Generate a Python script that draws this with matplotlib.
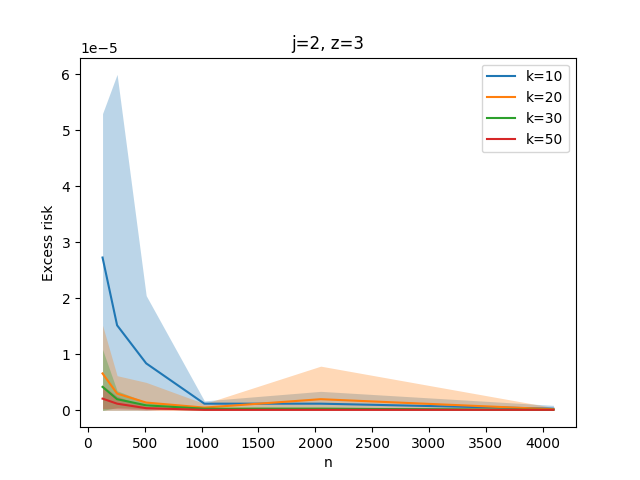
import matplotlib
matplotlib.use("Agg")
import matplotlib.pyplot as plt
import numpy as np

n = [128, 256, 512, 1024, 2048, 4096]
labels = ["k=10", "k=20", "k=30", "k=50"]

k10_mean = [2.73, 1.52, 0.84, 0.12, 0.12, 0.03]
k10_lo = [0.0, 0.0, 0.0, 0.07, 0.03, 0.0]
k10_hi = [5.3, 6.0, 2.05, 0.17, 0.34, 0.09]

k20_mean = [0.66, 0.30, 0.14, 0.05, 0.20, 0.02]
k20_lo = [0.0, 0.0, 0.0, 0.0, 0.0, 0.0]
k20_hi = [1.52, 0.62, 0.50, 0.12, 0.79, 0.05]

k30_mean = [0.42, 0.20, 0.09, 0.03, 0.03, 0.01]
k30_lo = [0.0, 0.05, 0.03, 0.0, 0.0, 0.0]
k30_hi = [1.09, 0.35, 0.15, 0.06, 0.06, 0.02]

k50_mean = [0.21, 0.12, 0.04, 0.01, 0.01, 0.01]
k50_lo = [0.03, 0.03, 0.01, 0.0, 0.0, 0.0]
k50_hi = [0.45, 0.25, 0.07, 0.02, 0.02, 0.02]

means = [k10_mean, k20_mean, k30_mean, k50_mean]
los = [k10_lo, k20_lo, k30_lo, k50_lo]
his = [k10_hi, k20_hi, k30_hi, k50_hi]

fig, ax = plt.subplots(figsize=(6.4, 4.8), dpi=100)
scale = 1e-5
for lab, m, lo, hi in zip(labels, means, los, his):
    line, = ax.plot(n, np.array(m) * scale, label=lab)
    ax.fill_between(n, np.array(lo) * scale, np.array(hi) * scale,
                    color=line.get_color(), alpha=0.3, linewidth=0)
ax.set_title("j=2, z=3")
ax.set_xlabel("n")
ax.set_ylabel("Excess risk")
ax.legend(loc="upper right")
fig.savefig("out.png")
